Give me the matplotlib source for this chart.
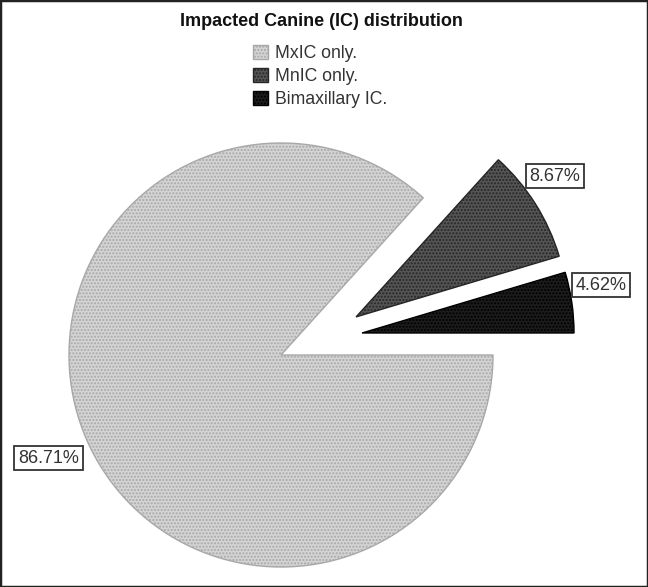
import numpy as np
import matplotlib.pyplot as plt
from matplotlib.patches import Rectangle

# data
labels = ['MxIC only.', 'MnIC only.', 'Bimaxillary IC.']
values = [86.71, 8.67, 4.62]
colors = ['#d4d4d4', '#555555', '#1c1c1c']
hatch_colors = ['#a8a8a8', '#262626', '#000000']
# exploded slice offsets: distance (radius units) and direction (degrees)
offset_dist = [0, 0.397, 0.396]
offset_ang = [0, 26.9, 15.2]

plt.rcParams['font.family'] = ['Liberation Sans', 'DejaVu Sans']

fig = plt.figure(figsize=(6.48, 5.87), dpi=100)
ax = fig.add_axes([0, 0, 1, 1])

wedges, texts, autotexts = ax.pie(
    values, colors=colors, startangle=0, counterclock=False,
    autopct='%.2f%%', pctdistance=1.2,
    textprops=dict(fontsize=13, color='#333333',
                   bbox=dict(boxstyle='square,pad=0.2', fc='white', ec='#333333', lw=1.3)))
for w, hc, d, a, t in zip(wedges, hatch_colors, offset_dist, offset_ang, autotexts):
    w.set_edgecolor(hc)
    w.set_hatch('.....')
    w.set_linewidth(1.0)
    cx, cy = d * np.cos(np.radians(a)), d * np.sin(np.radians(a))
    w.set_center((cx, cy))
    mid = (w.theta1 + w.theta2) / 2
    if d == 0:
        k = 1.2
    else:
        k, mid = 1.15, mid + 3
    t.set_position((cx + k * np.cos(np.radians(mid)), cy + k * np.sin(np.radians(mid))))

# centre of pie at pixel (281, 355), radius 212 px
r = 212.0
ax.set_xlim(-281 / r, (648 - 281) / r)
ax.set_ylim(-(587 - 355) / r, 355 / r)
ax.set_aspect('equal')
ax.axis('off')

fig.text(321 / 648, 1 - 22 / 587, 'Impacted Canine (IC) distribution', ha='center', va='center',
         fontsize=13, fontweight='bold', color='#111111')

leg = fig.legend(wedges, labels, loc='upper left', bbox_to_anchor=(253 / 648, 1 - 45 / 587),
                 frameon=False, fontsize=12.7, handlelength=0.85, handleheight=0.85,
                 handletextpad=0.4, labelspacing=0.33, borderpad=0, borderaxespad=0)
for t in leg.get_texts():
    t.set_color('#333333')

fig.patches.append(Rectangle((0, 0), 1, 1, transform=fig.transFigure, fill=False,
                             ec='#222222', lw=2.5))

fig.savefig('out.png', dpi=100)
